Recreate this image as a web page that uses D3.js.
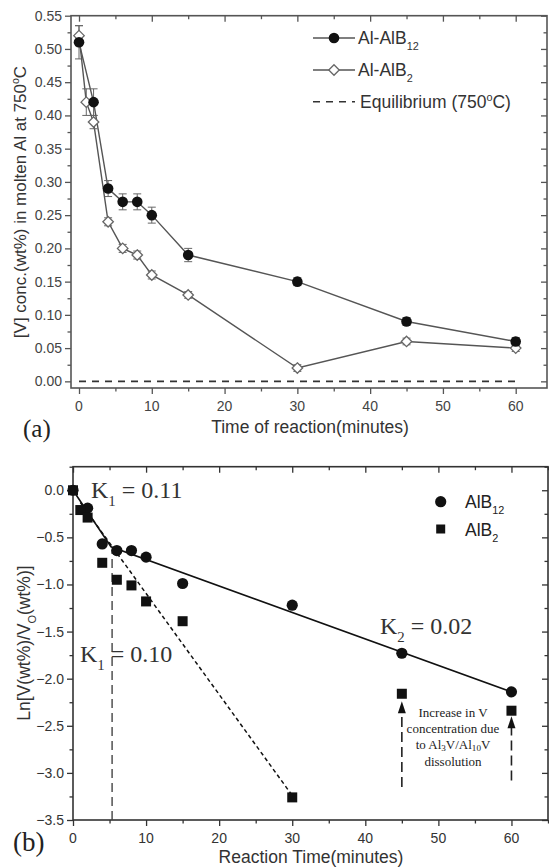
<!DOCTYPE html>
<html>
<head>
<meta charset="utf-8">
<script src="https://cdn.jsdelivr.net/npm/d3@7"></script>
<style>
  body { margin: 0; background: #fff; }
  svg { display: block; font-family: "Liberation Sans", Arial, sans-serif; }
</style>
</head>
<body>
<div id="chart"></div>
<script>
// ---- panel (a): V concentration vs time
const timeAlB12 = [0, 2, 4, 6, 8, 10, 15, 30, 45, 60];
const concAlB12 = [0.51, 0.42, 0.29, 0.27, 0.27, 0.25, 0.19, 0.15, 0.09, 0.06];
const errAlB12 = [0.025, 0.02, 0.012, 0.012, 0.012, 0.012, 0.01, 0.006, 0.006, 0.006];
const timeAlB2 = [0, 1, 2, 4, 6, 8, 10, 15, 30, 45, 60];
const concAlB2 = [0.52, 0.42, 0.39, 0.24, 0.20, 0.19, 0.16, 0.13, 0.02, 0.06, 0.05];
const errAlB2 = [0.015, 0.02, 0.01, 0.006, 0.006, 0.006, 0.006, 0.005, 0.005, 0.005, 0.005];
const equilibrium = 0.0;
const xTicksA = [0, 10, 20, 30, 40, 50, 60];
const yTicksA = [0, 0.05, 0.10, 0.15, 0.20, 0.25, 0.30, 0.35, 0.40, 0.45, 0.50, 0.55];

// ---- panel (b): Ln[V/V0] vs time
const timeB12 = [0, 2, 4, 6, 8, 10, 15, 30, 45, 60];
const lnB12 = [0, -0.19, -0.57, -0.64, -0.64, -0.71, -0.99, -1.22, -1.73, -2.14];
const timeB2 = [0, 1, 2, 4, 6, 8, 10, 15, 30, 45, 60];
const lnB2 = [0, -0.21, -0.29, -0.77, -0.95, -1.01, -1.18, -1.39, -3.26, -2.16, -2.34];
const fitB12Time = [0, 5.2, 60];
const fitB12Ln = [0, -0.60, -2.14];
const fitB2Time = [1, 30];
const fitB2Ln = [-0.13, -3.24];
const guideTime = 5.35, guideTop = -0.63;
const arrowTime = [45, 60];
const arrowFrom = [-3.15, -3.08];
const arrowTo = [-2.24, -2.40];
const xTicksB = [0, 10, 20, 30, 40, 50, 60];
const yTicksB = [0, -0.5, -1.0, -1.5, -2.0, -2.5, -3.0, -3.5];

const W = 549, H = 867;
const svg = d3.select("#chart").append("svg").attr("width", W).attr("height", H);

// text with sub/superscripts: parts = [[text, mode]] mode: 0 normal, 1 sub, 2 sup
function richText(g, x, y, parts, size, opts) {
    opts = opts || {};
    const subShift = opts.subShift || 0.32;
    const t = g.append("text").attr("x", x).attr("y", y)
        .attr("font-size", size)
        .attr("fill", opts.fill || "#222")
        .attr("text-anchor", opts.anchor || "start");
    if (opts.family) t.attr("font-family", opts.family);
    if (opts.rotate) t.attr("transform", "rotate(-90," + x + "," + y + ")");
    let shift = 0;
    parts.forEach(function(p) {
        const mode = p[1] || 0;
        const target = mode === 1 ? size * subShift : mode === 2 ? -size * 0.4 : 0;
        const s = t.append("tspan").text(p[0]).attr("dy", target - shift);
        if (mode) s.attr("font-size", size * (opts.subSize || 0.62));
        shift = target;
    });
    return t;
}

function frame(g, x, y, color, cfg) {
    const xr = x.range(), yr = y.range();
    // minor ticks
    const minorX = d3.range(cfg.xMinor[0], cfg.xMinor[1] + 0.001, cfg.xMinor[2]);
    const minorY = d3.range(cfg.yMinor[0], cfg.yMinor[1] + 0.001, cfg.yMinor[2]);
    const axes = [
        [d3.axisBottom(x).tickValues(cfg.xTicks).tickSize(6), "translate(0," + yr[0] + ")"],
        [d3.axisBottom(x).tickValues(minorX).tickSize(3.5), "translate(0," + yr[0] + ")"],
        [d3.axisTop(x).tickValues(cfg.xTicks).tickSize(-6), "translate(0," + yr[1] + ")"],
        [d3.axisTop(x).tickValues(minorX).tickSize(-3.5), "translate(0," + yr[1] + ")"],
        [d3.axisLeft(y).tickValues(cfg.yTicks).tickSize(6), "translate(" + xr[0] + ",0)"],
        [d3.axisLeft(y).tickValues(minorY).tickSize(3.5), "translate(" + xr[0] + ",0)"],
        [d3.axisRight(y).tickValues(cfg.yTicks).tickSize(-6), "translate(" + xr[1] + ",0)"],
        [d3.axisRight(y).tickValues(minorY).tickSize(-3.5), "translate(" + xr[1] + ",0)"]
    ];
    axes.forEach(function(a) {
        const ax = g.append("g").attr("transform", a[1]).call(a[0].tickFormat(""));
        ax.select(".domain").remove();
        ax.selectAll("line").attr("stroke", color).attr("stroke-width", 1.3);
    });
    g.append("rect").attr("x", xr[0]).attr("y", yr[1])
        .attr("width", xr[1] - xr[0]).attr("height", yr[0] - yr[1])
        .attr("fill", "none").attr("stroke", color).attr("stroke-width", 1.6);
    // labels
    g.append("g").selectAll("text").data(cfg.xTicks).join("text")
        .attr("x", function(d) { return x(d); }).attr("y", yr[0] + 23)
        .attr("text-anchor", "middle").attr("font-size", 14).attr("fill", cfg.label)
        .text(function(d) { return d; });
    g.append("g").selectAll("text").data(cfg.yTicks).join("text")
        .attr("x", xr[0] - 9).attr("y", function(d) { return y(d) + 5; })
        .attr("text-anchor", "end").attr("font-size", 14).attr("fill", cfg.label)
        .text(function(d) { return d3.format(cfg.yFmt)(d); });
}

// ======================= panel (a)
const ga = svg.append("g");
const xA = d3.scaleLinear().domain([-1.1, 64.3]).range([71, 547]);
const yA = d3.scaleLinear().domain([-0.01, 0.55]).range([388, 15.7]);

frame(ga, xA, yA, "#555", {
    xTicks: xTicksA, yTicks: yTicksA, xMinor: [5, 55, 10], yMinor: [0.025, 0.525, 0.05],
    yFmt: ".2f", label: "#444"
});

ga.append("line").attr("x1", xA(0)).attr("x2", xA(60))
    .attr("y1", yA(equilibrium)).attr("y2", yA(equilibrium))
    .attr("stroke", "#333").attr("stroke-width", 1.6).attr("stroke-dasharray", "7,6");

const lineA = d3.line().x(function(d) { return xA(d[0]); }).y(function(d) { return yA(d[1]); });
const ptsA12 = d3.zip(timeAlB12, concAlB12, errAlB12);
const ptsA2 = d3.zip(timeAlB2, concAlB2, errAlB2);

[ptsA12, ptsA2].forEach(function(pts) {
    ga.append("path").datum(pts).attr("d", lineA)
        .attr("fill", "none").attr("stroke", "#555").attr("stroke-width", 1.4);
    const eb = ga.append("g").selectAll("g").data(pts).join("g")
        .attr("stroke", "#666").attr("stroke-width", 1);
    eb.append("line").attr("x1", function(d) { return xA(d[0]); }).attr("x2", function(d) { return xA(d[0]); })
        .attr("y1", function(d) { return yA(d[1] - d[2]); }).attr("y2", function(d) { return yA(d[1] + d[2]); });
    [-1, 1].forEach(function(sgn) {
        eb.append("line").attr("x1", function(d) { return xA(d[0]) - 4; }).attr("x2", function(d) { return xA(d[0]) + 4; })
            .attr("y1", function(d) { return yA(d[1] + sgn * d[2]); }).attr("y2", function(d) { return yA(d[1] + sgn * d[2]); });
    });
});

const diamond = d3.symbol().type(d3.symbolDiamond2).size(70);
ga.append("g").selectAll("path").data(ptsA2).join("path")
    .attr("transform", function(d) { return "translate(" + xA(d[0]) + "," + yA(d[1]) + ")"; })
    .attr("d", diamond).attr("fill", "#fff").attr("stroke", "#666").attr("stroke-width", 1.3);
ga.append("g").selectAll("circle").data(ptsA12).join("circle")
    .attr("cx", function(d) { return xA(d[0]); }).attr("cy", function(d) { return yA(d[1]); })
    .attr("r", 5.3).attr("fill", "#111");

// legend (a)
const legA = ga.append("g");
[38, 70, 101.7].forEach(function(ly, i) {
    legA.append("line").attr("x1", 313).attr("x2", 355).attr("y1", ly).attr("y2", ly)
        .attr("stroke", i === 2 ? "#333" : "#555").attr("stroke-width", 1.5)
        .attr("stroke-dasharray", i === 2 ? "7,6" : null);
});
legA.append("circle").attr("cx", 334).attr("cy", 38).attr("r", 5.3).attr("fill", "#111");
legA.append("path").attr("transform", "translate(334,70)").attr("d", diamond)
    .attr("fill", "#fff").attr("stroke", "#666").attr("stroke-width", 1.3);
richText(legA, 358, 44, [["Al-AlB"], ["12", 1]], 17.5, { fill: "#333" });
richText(legA, 358, 76, [["Al-AlB"], ["2", 1]], 17.5, { fill: "#333" });
richText(legA, 360, 108, [["Equilibrium (750"], ["o", 2], ["C)"]], 17.5, { fill: "#333" });

richText(ga, 26, 202, [["[V] conc.(wt%) in molten Al  at 750"], ["o", 2], ["C"]], 17,
    { anchor: "middle", rotate: true, fill: "#333" });
ga.append("text").attr("x", 310).attr("y", 433).attr("text-anchor", "middle")
    .attr("font-size", 17.5).attr("fill", "#333").text("Time of reaction(minutes)");
ga.append("text").attr("x", 23).attr("y", 437).attr("font-size", 25)
    .attr("font-family", "Liberation Serif, Times New Roman, serif").attr("fill", "#222").text("(a)");

// ======================= panel (b)
const gb = svg.append("g");
const xB = d3.scaleLinear().domain([0, 65]).range([73, 548]);
const yB = d3.scaleLinear().domain([-3.5, 0.25]).range([820, 466.7]);

frame(gb, xB, yB, "#333", {
    xTicks: xTicksB, yTicks: yTicksB, xMinor: [5, 65, 10], yMinor: [-3.25, 0.25, 0.5],
    yFmt: ".1f", label: "#333"
});

const lineB = d3.line().x(function(d) { return xB(d[0]); }).y(function(d) { return yB(d[1]); });
gb.append("path").datum(d3.zip(fitB12Time, fitB12Ln)).attr("d", lineB)
    .attr("fill", "none").attr("stroke", "#111").attr("stroke-width", 1.6);
gb.append("path").datum(d3.zip(fitB2Time, fitB2Ln)).attr("d", lineB)
    .attr("fill", "none").attr("stroke", "#111").attr("stroke-width", 1.5).attr("stroke-dasharray", "4,3");
gb.append("line").attr("x1", xB(guideTime)).attr("x2", xB(guideTime))
    .attr("y1", yB(-3.5)).attr("y2", yB(guideTop))
    .attr("stroke", "#444").attr("stroke-width", 1.4).attr("stroke-dasharray", "9,5");

// arrows
arrowTime.forEach(function(t, i) {
    const x0 = xB(t), yTip = yB(arrowTo[i]);
    gb.append("line").attr("x1", x0).attr("x2", x0).attr("y1", yB(arrowFrom[i])).attr("y2", yTip + 9)
        .attr("stroke", "#222").attr("stroke-width", 1.6).attr("stroke-dasharray", "10,5");
    gb.append("path").attr("d", "M" + x0 + "," + yTip + "L" + (x0 - 4) + "," + (yTip + 12) + "L" + (x0 + 4) + "," + (yTip + 12) + "Z")
        .attr("fill", "#111");
});

gb.append("g").selectAll("circle").data(d3.zip(timeB12, lnB12)).join("circle")
    .attr("cx", function(d) { return xB(d[0]); }).attr("cy", function(d) { return yB(d[1]); })
    .attr("r", 5.6).attr("fill", "#111");
gb.append("g").selectAll("rect").data(d3.zip(timeB2, lnB2)).join("rect")
    .attr("x", function(d) { return xB(d[0]) - 5; }).attr("y", function(d) { return yB(d[1]) - 5; })
    .attr("width", 10).attr("height", 10).attr("fill", "#111");

// legend (b)
gb.append("circle").attr("cx", 440.7).attr("cy", 501.7).attr("r", 5.6).attr("fill", "#111");
gb.append("rect").attr("x", 436.2).attr("y", 524.5).attr("width", 9).attr("height", 9).attr("fill", "#111");
richText(gb, 465, 508, [["AlB"], ["12", 1]], 17.5, { fill: "#222" });
richText(gb, 465, 536, [["AlB"], ["2", 1]], 17.5, { fill: "#222" });

const serif = "Liberation Serif, Times New Roman, serif";
richText(gb, 91, 498, [["K"], ["1", 1], [" = 0.11"]], 24, { family: serif, fill: "#333" });
richText(gb, 80, 662, [["K"], ["1", 1], [" = 0.10"]], 24, { family: serif, fill: "#333" });
richText(gb, 380, 634, [["K"], ["2", 1], [" = 0.02"]], 24, { family: serif, fill: "#333" });

const note = gb.append("g").attr("font-family", serif);
const noteOpts = { anchor: "middle", family: serif, subShift: 0.15, subSize: 0.7 };
richText(note, 453, 717, [["Increase in V"]], 13, noteOpts);
richText(note, 453, 733, [["concentration due"]], 13, noteOpts);
richText(note, 453, 749, [["to Al"], ["3", 1], ["V/Al"], ["10", 1], ["V"]], 13, noteOpts);
richText(note, 453, 766, [["dissolution"]], 13, noteOpts);

richText(gb, 30, 643, [["Ln[V(wt%)/V"], ["O", 1], ["(wt%)]"]], 17.5, { anchor: "middle", rotate: true, fill: "#333" });
gb.append("text").attr("x", 311).attr("y", 863).attr("text-anchor", "middle")
    .attr("font-size", 17.5).attr("fill", "#333").text("Reaction Time(minutes)");
gb.append("text").attr("x", 13).attr("y", 851).attr("font-size", 27)
    .attr("font-family", serif).attr("fill", "#222").text("(b)");
</script>
</body>
</html>
